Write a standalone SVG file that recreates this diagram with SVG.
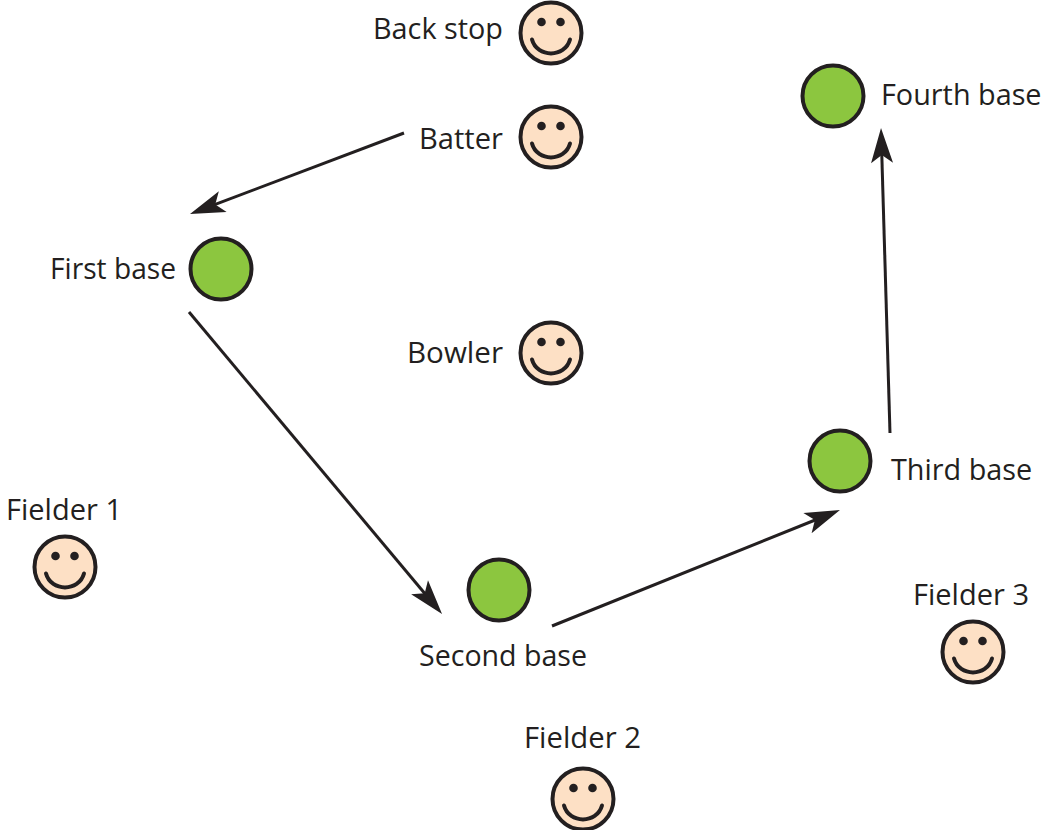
<svg xmlns="http://www.w3.org/2000/svg" width="1044" height="830" viewBox="0 0 1044 830">
<style>
text{font-family:"Open Sans","Noto Sans","Liberation Sans",sans-serif;font-size:28.800px;fill:#231f20}
.b{fill:#8cc63f;stroke:#231f20;stroke-width:4}
.f{fill:#fde0c5;stroke:#231f20;stroke-width:4}
.e{fill:#231f20}
.s{fill:none;stroke:#231f20;stroke-width:4;stroke-linecap:round}
.c{fill:none;stroke:#231f20;stroke-width:3;marker-end:url(#a)}
</style>
<defs>
<marker id="a" markerUnits="userSpaceOnUse" markerWidth="40" markerHeight="30" refX="16" refY="15" orient="auto">
<path d="M36 15L1 4L9 15L1 26Z" fill="#231f20"/>
</marker>
<g id="sm"><circle class="f" r="30.500"/><circle class="e" cx="-9.500" cy="-11" r="4.300"/><circle class="e" cx="9.500" cy="-11" r="4.300"/><path class="s" d="M-19 6.500C-14 25 14 25 19 6.500"/></g>
</defs>
<g id="connectors">
<path class="c" d="M404 133L208.700 206.900"/>
<path class="c" d="M189 312L429.200 598.700"/>
<path class="c" d="M552 626L821.400 517.500"/>
<path class="c" d="M890 433L881.600 148"/>
</g>
<g id="back-stop"><use href="#sm" x="551" y="33"/><text x="373" y="39">Back stop</text></g>
<g id="batter"><use href="#sm" x="551" y="137"/><text x="419" y="149" textLength="84" lengthAdjust="spacingAndGlyphs">Batter</text></g>
<g id="bowler"><use href="#sm" x="551" y="353"/><text x="407" y="363" textLength="96" lengthAdjust="spacingAndGlyphs">Bowler</text></g>
<g id="fielder-1"><use href="#sm" x="65" y="567"/><text x="6" y="520" textLength="116" lengthAdjust="spacingAndGlyphs">Fielder 1</text></g>
<g id="fielder-2"><use href="#sm" x="583" y="799"/><text x="524" y="748" textLength="117" lengthAdjust="spacingAndGlyphs">Fielder 2</text></g>
<g id="fielder-3"><use href="#sm" x="973" y="652"/><text x="913" y="605" textLength="116" lengthAdjust="spacingAndGlyphs">Fielder 3</text></g>
<g id="first-base"><circle class="b" cx="221" cy="269" r="30.500"/><text x="50" y="279" textLength="126" lengthAdjust="spacingAndGlyphs">First base</text></g>
<g id="second-base"><circle class="b" cx="499" cy="590" r="30.500"/><text x="419" y="666" textLength="168" lengthAdjust="spacingAndGlyphs">Second base</text></g>
<g id="third-base"><circle class="b" cx="840" cy="461" r="30.500"/><text x="891" y="480">Third base</text></g>
<g id="fourth-base"><circle class="b" cx="833" cy="96" r="30.500"/><text x="881" y="105">Fourth base</text></g>
</svg>
